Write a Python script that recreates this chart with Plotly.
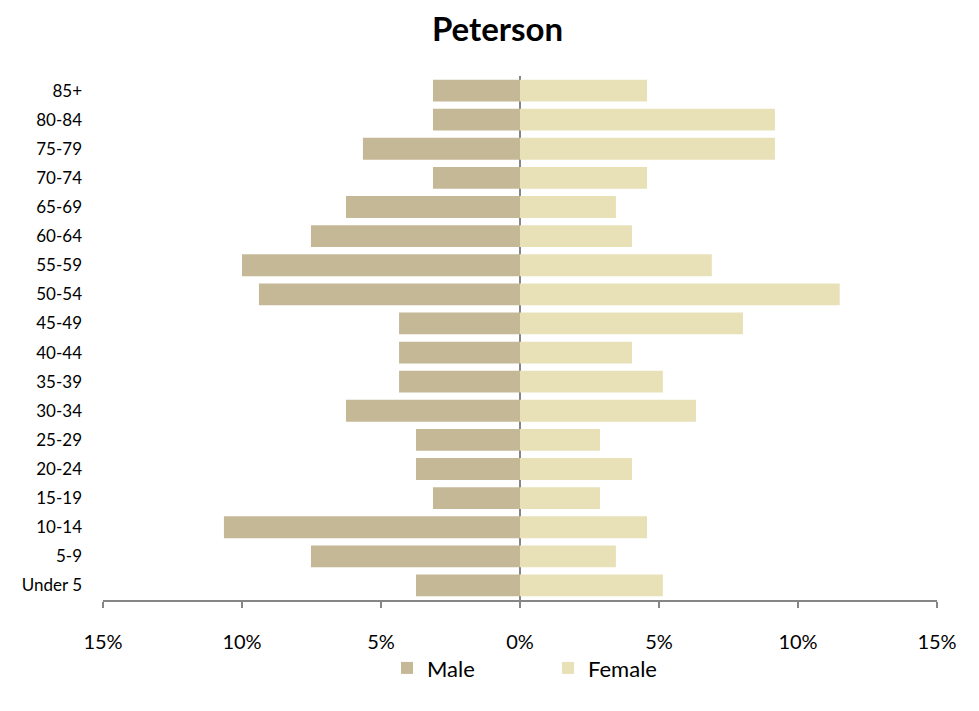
import plotly.graph_objects as go

age_groups = ["Under 5", "5-9", "10-14", "15-19", "20-24", "25-29", "30-34", "35-39",
              "40-44", "45-49", "50-54", "55-59", "60-64", "65-69", "70-74", "75-79",
              "80-84", "85+"]
male_pct = [3.74, 7.52, 10.65, 3.13, 3.74, 3.74, 6.26, 4.35,
            4.35, 4.35, 9.39, 10.0, 7.52, 6.26, 3.13, 5.65, 3.13, 3.13]
female_pct = [5.14, 3.45, 4.57, 2.88, 4.03, 2.88, 6.33, 5.14,
              4.03, 8.02, 11.5, 6.9, 4.03, 3.45, 4.57, 9.17, 9.17, 4.57]
tick_vals = [-15, -10, -5, 0, 5, 10, 15]
tick_text = ["15%", "10%", "5%", "0%", "5%", "10%", "15%"]

font_family = "Lato, 'Open Sans', sans-serif"

fig = go.Figure()
fig.add_trace(go.Bar(
    y=age_groups, x=[-v for v in male_pct], orientation="h", name="Male",
    marker=dict(color="#C4B896", line=dict(width=0)),
))
fig.add_trace(go.Bar(
    y=age_groups, x=female_pct, orientation="h", name="Female",
    marker=dict(color="#E8E1B8", line=dict(width=0)),
))

fig.update_layout(
    width=979, height=711,
    barmode="overlay", bargap=0.25,
    paper_bgcolor="white", plot_bgcolor="white",
    margin=dict(l=95, r=50, t=68, b=119),
    font=dict(family=font_family, size=16, color="black"),
    title=dict(text="<b>Peterson</b>", x=0.5, xref="container", xanchor="center",
               y=0.97, yref="container", yanchor="middle",
               font=dict(size=33, family=font_family, color="black")),
    xaxis=dict(range=[-15, 15], tickvals=tick_vals, ticktext=tick_text,
               showgrid=False, showline=True, linecolor="#868686", linewidth=1.5,
               ticks="outside", ticklen=6, tickcolor="#868686", tickwidth=1.5,
               zeroline=True, zerolinecolor="#868686", zerolinewidth=1.5,
               ticklabelstandoff=17, tickfont=dict(size=20)),
    yaxis=dict(showgrid=False, showline=False, ticks="", ticklabelstandoff=20,
               tickfont=dict(size=17), categoryorder="array", categoryarray=age_groups),
    legend=dict(orientation="h", x=0.5336, xanchor="center", xref="paper",
                y=-0.13, yanchor="middle", font=dict(size=22),
                bgcolor="rgba(0,0,0,0)",
                entrywidth=116, itemwidth=30, traceorder="normal"),
)

fig.write_html("out.html")
